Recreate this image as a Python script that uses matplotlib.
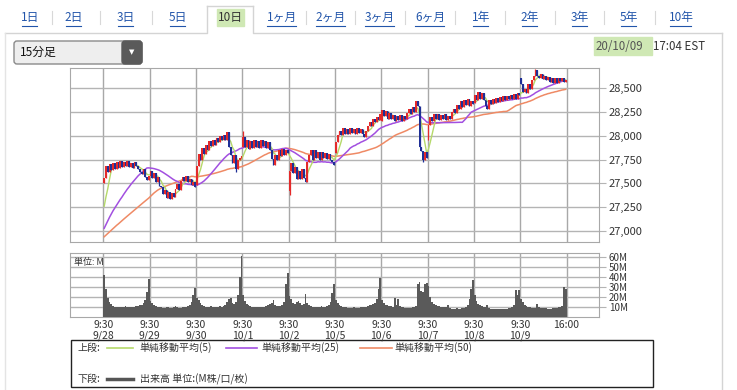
import matplotlib.pyplot as plt
from matplotlib.patches import Rectangle, FancyBboxPatch
import numpy as np
import pandas as pd

plt.rcParams['font.family'] = ['Noto Sans CJK JP', 'DejaVu Sans']

# ---------------------------------------------------------------
# data : 15 min bars, 26 per session
# ---------------------------------------------------------------
days = ['9/28', '9/29', '9/30', '10/1', '10/2', '10/5', '10/6', '10/7', '10/8', '10/9']
price_ticks = [27000, 27250, 27500, 27750, 28000, 28250, 28500]
vol_ticks = [10, 20, 30, 40, 50, 60]

# closes before the window (used only for the moving averages)
pre_close = [26820, 26780, 26760, 26790, 26830, 26850, 26870, 26900, 26880, 26860,
             26890, 26910, 26900, 26870, 26850, 26880, 26900, 26920, 26890, 26870,
             26850, 26830, 26810,
             26800, 26760, 26700, 26680, 26720, 26780, 26850, 26900, 26950, 26980,
             27000, 27020, 26990, 27010, 27050, 27080, 27060, 27100, 27120, 27150,
             27130, 27160, 27180, 27200, 27190, 27170]

day_open = [27500, 27580, 27480, 27880, 27420, 27820, 28150, 27990, 28340, 28610]

c0928 = [27560, 27680, 27620, 27700, 27640, 27710, 27650, 27720, 27660, 27730, 27670, 27720, 27680,
         27730, 27670, 27710, 27660, 27720, 27680, 27650, 27620, 27600, 27650, 27570, 27540, 27580]
c0929 = [27630, 27560, 27610, 27510, 27570, 27470, 27460, 27390, 27430, 27350, 27410, 27340, 27400,
         27360, 27440, 27490, 27430, 27520, 27570, 27520, 27580, 27510, 27550, 27480, 27510, 27460]
c0930 = [27680, 27810, 27750, 27870, 27810, 27900, 27850, 27940, 27890, 27950, 27900, 27980, 27930,
         28000, 27950, 28010, 27960, 28040, 27880, 27800, 27710, 27800, 27650, 27750, 27770, 27790]
c1001 = [27990, 27880, 27950, 27860, 27940, 27870, 27950, 27880, 27940, 27870, 27950, 27890, 27940,
         27870, 27930, 27850, 27760, 27690, 27800, 27750, 27850, 27790, 27860, 27800, 27850, 27820]
c1002 = [27630, 27710, 27610, 27670, 27550, 27630, 27550, 27650, 27560, 27510, 27720, 27800, 27850,
         27750, 27850, 27770, 27830, 27750, 27830, 27770, 27820, 27760, 27810, 27740, 27720, 27690]
c1005 = [27930, 28010, 28050, 28010, 28080, 28020, 28070, 28020, 28080, 28030, 28070, 28020, 28080,
         28030, 28070, 28020, 27990, 28050, 28100, 28140, 28100, 28180, 28140, 28200, 28160, 28230]
c1006 = [28270, 28210, 28260, 28180, 28240, 28170, 28220, 28150, 28210, 28160, 28220, 28150, 28210,
         28170, 28240, 28280, 28230, 28300, 28250, 28360, 28310, 27880, 27840, 27750, 27830, 27770]
c1007 = [28110, 28200, 28150, 28230, 28170, 28230, 28160, 28220, 28170, 28230, 28160, 28210, 28170,
         28250, 28280, 28240, 28320, 28280, 28360, 28300, 28370, 28320, 28380, 28310, 28360, 28330]
c1008 = [28430, 28370, 28460, 28390, 28450, 28370, 28310, 28280, 28370, 28330, 28390, 28340, 28400,
         28350, 28410, 28360, 28420, 28370, 28420, 28380, 28430, 28390, 28440, 28390, 28450, 28430]
c1009 = [28540, 28460, 28490, 28450, 28540, 28490, 28580, 28630, 28690, 28630, 28610, 28650, 28590,
         28630, 28580, 28620, 28560, 28610, 28550, 28600, 28550, 28610, 28570, 28610, 28560, 28580]

# long wicks that stand out (bar index, extreme price)
spike_idx = [74, 78, 104, 179, 182, 242]
spike_val = [27615, 28050, 27380, 27720, 27960, 28700]

# volume, millions
v0928 = [42, 28, 19, 15, 13, 11, 10, 10, 10, 10, 10, 10, 11, 10, 10, 10, 10, 10, 11, 11, 12, 12, 14, 17, 25, 38]
v0929 = [16, 14, 12, 11, 10, 10, 10, 9, 9, 10, 10, 9, 9, 10, 11, 10, 9, 9, 10, 10, 10, 11, 12, 15, 22, 29]
v0930 = [19, 17, 14, 12, 11, 10, 10, 10, 11, 10, 10, 10, 10, 11, 10, 11, 12, 15, 18, 19, 14, 13, 15, 22, 40, 61]
v1001 = [22, 16, 13, 12, 11, 10, 10, 10, 10, 10, 10, 10, 10, 11, 12, 13, 14, 17, 12, 11, 11, 11, 12, 15, 33, 44]
v1002 = [21, 18, 14, 13, 15, 16, 14, 12, 13, 23, 14, 12, 11, 10, 10, 10, 10, 10, 11, 10, 10, 11, 12, 15, 24, 33]
v1005 = [17, 14, 12, 11, 10, 10, 10, 9, 9, 9, 10, 9, 9, 9, 10, 10, 10, 10, 11, 12, 12, 13, 14, 18, 28, 39]
v1006 = [17, 14, 12, 12, 11, 11, 10, 19, 12, 18, 11, 10, 10, 9, 9, 9, 9, 10, 10, 11, 33, 35, 26, 25, 33, 34]
v1007 = [31, 20, 15, 13, 12, 11, 11, 10, 10, 10, 10, 12, 9, 8, 8, 8, 9, 8, 8, 9, 9, 10, 12, 18, 28, 37]
v1008 = [22, 16, 13, 12, 11, 10, 10, 12, 9, 8, 8, 8, 8, 8, 8, 8, 8, 8, 8, 9, 9, 10, 12, 27, 22, 27]
v1009 = [18, 15, 12, 11, 10, 10, 9, 9, 9, 13, 10, 9, 9, 9, 9, 8, 8, 8, 9, 9, 9, 10, 10, 11, 30, 28]

tabs = ['1日', '2日', '3日', '5日', '10日', '1ヶ月', '2ヶ月', '3ヶ月', '6ヶ月', '1年', '2年', '3年', '5年', '10年']
tab_x = [30, 74, 126, 178, 230, 282, 331, 380, 430, 481, 530, 580, 629, 681]

# ---------------------------------------------------------------
closes = np.array(c0928 + c0929 + c0930 + c1001 + c1002 + c1005 + c1006 + c1007 + c1008 + c1009, float)
vols = np.array(v0928 + v0929 + v0930 + v1001 + v1002 + v1005 + v1006 + v1007 + v1008 + v1009, float)
n = len(closes)
opens = np.r_[closes[0], closes[:-1]]
opens[::26] = day_open
x = np.arange(n) + 0.5
hi = np.maximum(opens, closes)
lo = np.minimum(opens, closes)
for i, v in zip(spike_idx, spike_val):
    hi[i] = max(hi[i], v)
    lo[i] = min(lo[i], v)

full = pd.Series(np.r_[pre_close, closes])
ma5 = full.rolling(5).mean().values[len(pre_close):]
ma25 = full.rolling(25).mean().values[len(pre_close):]
ma50 = full.rolling(50).mean().values[len(pre_close):]

W, H = 737, 390
fig = plt.figure(figsize=(W / 100, H / 100), dpi=100, facecolor='white')


def px(l, t, r, b):
    return [l / W, 1 - b / H, (r - l) / W, (b - t) / H]


# background layer, pixel coordinates
bg = fig.add_axes([0, 0, 1, 1], zorder=0)
bg.set_xlim(0, W)
bg.set_ylim(H, 0)
bg.axis('off')

# tabs
bg.plot([5, 207, 207], [33, 33, 6], color='#d4d4d4', lw=1)
bg.plot([253, 253, 722], [6, 33, 33], color='#d4d4d4', lw=1)
bg.plot([207, 253], [6, 6], color='#d4d4d4', lw=1)
bg.plot([722, 722], [33, 390], color='#d4d4d4', lw=1)
bg.plot([5, 5], [33, 390], color='#e4e4e4', lw=1)
bg.add_patch(Rectangle((217, 9), 27, 17, color='#cfe8b4'))
for i, (t, tx) in enumerate(zip(tabs, tab_x)):
    if t == '10日':
        bg.text(tx, 17.5, t, fontsize=8.5, ha='center', va='center', color='#333333')
        continue
    bg.text(tx, 17.5, t, fontsize=8.5, ha='center', va='center', color='#2255aa')
    w = 9 + 6 * (len(t) - 1) if 'ヶ' not in t else 29
    bg.plot([tx - w / 2, tx + w / 2], [25.5, 25.5], color='#2255aa', lw=0.8)
    if i < len(tabs) - 1 and tabs[i + 1] != '10日':
        sx = (tx + tab_x[i + 1]) / 2
        bg.plot([sx, sx], [11, 24], color='#d8d8d8', lw=0.8)

# dropdown
bg.add_patch(FancyBboxPatch((14, 41), 128, 23, boxstyle='round,pad=0,rounding_size=3',
                            facecolor='#eeeeee', edgecolor='#8a8a8a', lw=1))
bg.add_patch(FancyBboxPatch((122, 41), 20, 23, boxstyle='round,pad=0,rounding_size=3',
                            facecolor='#5a5a5a', edgecolor='#5a5a5a', lw=1))
bg.text(132, 52.5, '▼', fontsize=5, ha='center', va='center', color='white', family='DejaVu Sans')
bg.text(20, 52.5, '15分足', fontsize=8.5, ha='left', va='center', color='#111111')

# timestamp
bg.add_patch(Rectangle((594, 37), 58, 18, color='#cfe8b4'))
bg.text(596, 46, '20/10/09', fontsize=8.3, ha='left', va='center', color='#555555')
bg.text(653, 46, '17:04 EST', fontsize=8.3, ha='left', va='center', color='#333333')

# legend box
lg = 7.2
bg.add_patch(Rectangle((71, 340), 582, 47, facecolor='white', edgecolor='#222222', lw=1))
bg.text(78, 348, '上段:', fontsize=lg, va='center', color='#333333')
bg.plot([107, 133], [348, 348], color='#b5d96a', lw=1.2)
bg.text(139, 348, '単純移動平均(5)', fontsize=lg, va='center', color='#333333')
bg.plot([226, 257], [348, 348], color='#a24fe0', lw=1.2)
bg.text(261, 348, '単純移動平均(25)', fontsize=lg, va='center', color='#333333')
bg.plot([360, 392], [348, 348], color='#ef8a65', lw=1.2)
bg.text(394, 348, '単純移動平均(50)', fontsize=lg, va='center', color='#333333')
bg.text(78, 379, '下段:', fontsize=lg, va='center', color='#333333')
bg.plot([107, 133], [379, 379], color='#555555', lw=2.5)
bg.text(140, 379, '出来高 単位:(M株/口/枚)', fontsize=lg, va='center', color='#333333')

grid_c = '#b4b4b4'
day_lines = np.arange(0, n + 1, 26)

# ---------------------------------------------------------------
# price panel
# ---------------------------------------------------------------
ax = fig.add_axes(px(70, 68, 599, 242), zorder=2)
ax.set_xlim(-18.7, 278.2)
ax.set_ylim(26885, 28710)
for v in day_lines:
    ax.axvline(v, color='#a8a8a8', lw=1, zorder=1)
ax.set_yticks(price_ticks)
ax.set_yticklabels([f'{p:,}' for p in price_ticks])
ax.grid(axis='y', color=grid_c, lw=1, zorder=1)
ax.yaxis.tick_right()
ax.tick_params(axis='y', length=5, color=grid_c, labelsize=8, labelcolor='#333333', pad=2)
ax.tick_params(axis='x', length=0, labelbottom=False)
for s in ax.spines.values():
    s.set_color('#a8a8a8')

ax.plot(x, ma50, color='#ef8a65', lw=1.1, zorder=3)
ax.plot(x, ma25, color='#a24fe0', lw=1.1, zorder=3)
ax.plot(x, ma5, color='#b5d96a', lw=1.0, zorder=3)
up = closes >= opens
col = np.where(up, '#e42a2a', '#1f2f96')
ax.vlines(x, lo, hi, colors=col, lw=0.9, zorder=4)
body = np.maximum(np.abs(closes - opens), 10)
ax.bar(x, body, bottom=np.minimum(opens, closes), width=1.0,
       color=col, linewidth=0, zorder=4)

# ---------------------------------------------------------------
# volume panel
# ---------------------------------------------------------------
av = fig.add_axes(px(70, 253, 599, 317), zorder=2)
av.set_xlim(-18.7, 278.2)
av.set_ylim(0, 64)
for v in day_lines:
    av.axvline(v, color='#a8a8a8', lw=1, zorder=1)
av.set_yticks(vol_ticks)
av.set_yticklabels([f'{v}M' for v in vol_ticks])
av.grid(axis='y', color=grid_c, lw=1, zorder=1)
av.yaxis.tick_right()
av.tick_params(axis='y', length=5, color=grid_c, labelsize=7, labelcolor='#333333', pad=2)
for s in av.spines.values():
    s.set_color('#a8a8a8')
av.bar(x, vols, width=1.0, color='#5a5a5a', linewidth=0, zorder=3)
av.text(0.008, 0.93, '単位: M', transform=av.transAxes, fontsize=6.5, va='top', color='#333333')

av.set_xticks(day_lines)
av.set_xticklabels([f'9:30\n{d}' for d in days] + ['16:00\n'], fontsize=7.5,
                   color='#333333', linespacing=1.05)
av.tick_params(axis='x', length=0, pad=2)

fig.savefig('out.png', dpi=100, facecolor='white')
